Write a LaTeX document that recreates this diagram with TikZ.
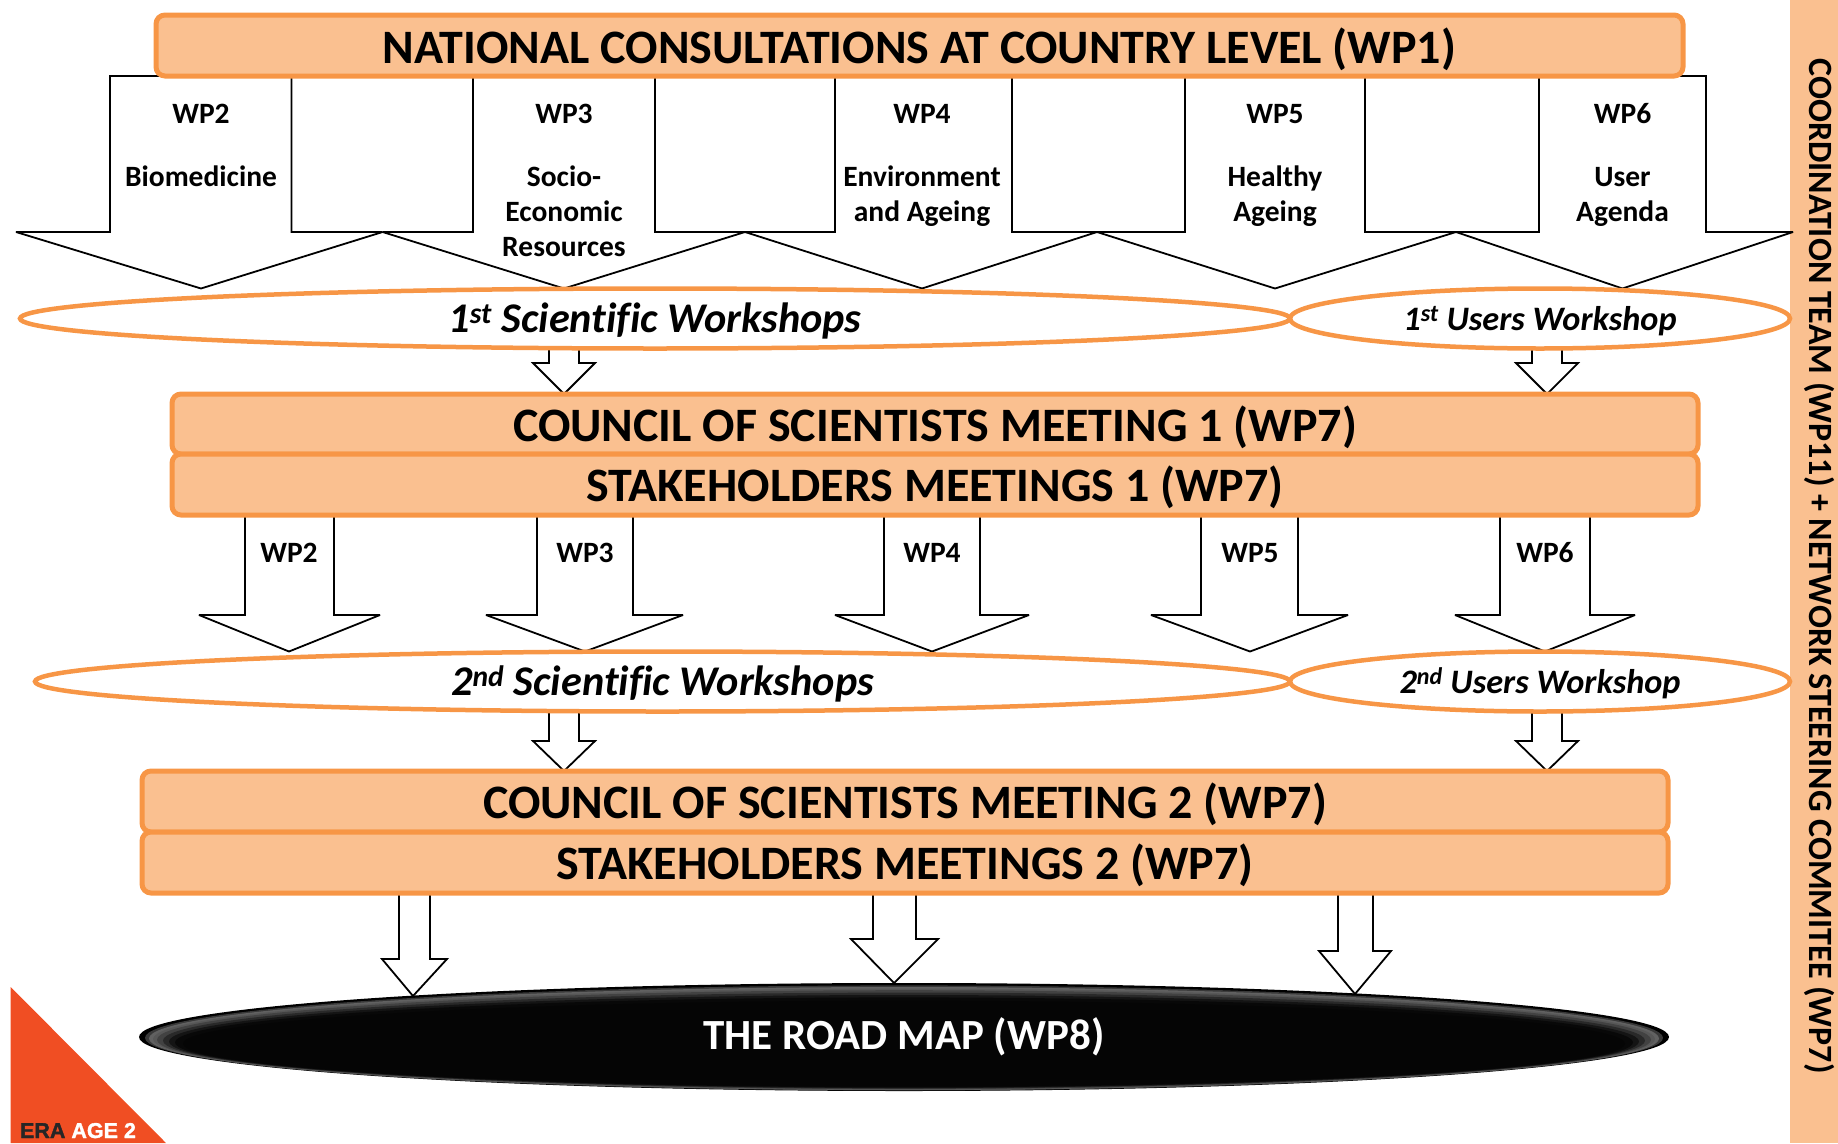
\documentclass[tikz,border=0pt]{standalone}
\usepackage{fontspec}
\setmainfont[Ligatures=NoCommon]{Carlito}
\newfontfamily\logofont[FakeBold=1.5]{Liberation Sans Bold}
\usetikzlibrary{shapes.geometric,backgrounds,calc}

\definecolor{wporange}{HTML}{F79646}
\definecolor{wpfill}{HTML}{FAC090}
\definecolor{logoorange}{HTML}{F04E23}

\tikzset{
    meetingbox/.style={rectangle, rounded corners=9pt, draw=wporange, fill=wpfill,
        line width=5pt, inner sep=0pt, outer sep=0pt, minimum height=61pt, text depth=1pt,
        font=\fontsize{48}{52}\selectfont\bfseries},
    workshop/.style={ellipse, draw=wporange, fill=white, line width=4.5pt, text depth=1pt,
        inner sep=0pt, outer sep=0pt, minimum height=60pt},
    blockarrow/.style={draw=black, fill=white, line width=1.8pt, line join=miter, miter limit=3},
    wplabel/.style={inner sep=0pt, align=center,
        font=\fontsize{29.5}{35}\selectfont\bfseries},
}

\begin{document}
\begin{tikzpicture}[x=1pt, y=-1pt]
    \useasboundingbox (0,0) rectangle (1838,1143);

    % Top box
    \node[meetingbox, minimum width=1527pt, text depth=0pt] (title) at (919.5,45.5) {NATIONAL CONSULTATIONS AT COUNTRY LEVEL (WP1)};

    % First workshops
    \node[workshop, minimum width=1270pt, font=\fontsize{42.3}{46}\selectfont\bfseries\itshape] (scione) at (655,318.5) {1\textsuperscript{st} Scientific Workshops};
    \node[workshop, minimum width=500pt, font=\fontsize{34.3}{38}\selectfont\bfseries\itshape] (usersone) at (1540,318.5) {1\textsuperscript{st} Users Workshop};

    % First meetings
    \node[meetingbox, minimum width=1526pt, minimum height=60pt] (councilone) at (935,424) {COUNCIL OF SCIENTISTS MEETING 1 (WP7)};
    \node[meetingbox, minimum width=1526pt] (stakeone) at (935,484.5) {STAKEHOLDERS MEETINGS 1 (WP7)};

    % Second workshops
    \node[workshop, minimum width=1255pt, font=\fontsize{42.3}{46}\selectfont\bfseries\itshape] (scitwo) at (662.5,681.5) {2\textsuperscript{nd} Scientific Workshops};
    \node[workshop, minimum width=500pt, font=\fontsize{34.3}{38}\selectfont\bfseries\itshape] (userstwo) at (1540,681.5) {2\textsuperscript{nd} Users Workshop};

    % Second meetings
    \node[meetingbox, minimum width=1526pt] (counciltwo) at (905,801.5) {COUNCIL OF SCIENTISTS MEETING 2 (WP7)};
    \node[meetingbox, minimum width=1526pt] (staketwo) at (905,862.5) {STAKEHOLDERS MEETINGS 2 (WP7)};

    % The road map, its fill goes on the background layer
    \node[ellipse, inner sep=0pt, outer sep=0pt, minimum width=1530pt, minimum height=108pt,
        text=white, font=\fontsize{43}{47}\selectfont\bfseries] (road) at (904,1037) {THE ROAD MAP (WP8)};

    % Side bar text
    \node[rotate=-90, inner sep=0pt, font=\fontsize{34}{38}\selectfont\bfseries] (team) at (1820,566) {COORDINATION TEAM (WP11) + NETWORK STEERING COMMITEE (WP7)};

    % Logo
    \node[inner sep=0pt, anchor=base, text=white, font=\logofont\fontsize{21.5}{24}\selectfont] (logo) at (78,1138) {\textcolor{black!85}{ERA} AGE 2};

    % Labels on the first arrows
    \foreach \wp/\x/\topic in {WP2/201/Biomedicine, WP3/564/{Socio-\\Economic\\Resources}, WP4/922/{Environment\\and Ageing}, WP5/1275/{Healthy\\Ageing}, WP6/1622.5/{User\\Agenda}} {
        \node[wplabel] (top\wp) at (\x,114) {\wp};
        \node[wplabel, anchor=north] (topic\wp) at (\x,162) {\strut\topic};
    }

    % Labels on the second arrows
    \foreach \wp/\x in {WP2/289, WP3/585, WP4/932, WP5/1250, WP6/1545} {
        \node[wplabel] (mid\wp) at (\x,553) {\wp};
    }

    \begin{scope}[on background layer]
        \fill[wpfill] (1789.5,0) rectangle (1838,1143);
        \fill[logoorange] (10.7,987) -- (10.7,1143) -- (166,1143) -- cycle;

        % Arrows: source, target, shaft left, shaft right, head left, tip, head right, head y, tip offset
        \foreach \src/\dst/\shl/\shr/\hdl/\tipx/\hdr/\hdy/\dy in {
            title/scione/110/291.5/16/201/382.6/232/0,
            title/scione/473/655/382.6/564/745/232/0,
            title/scione/835/1012/745/922/1097/232/0,
            title/scione/1185/1365/1097/1275/1456/232/0,
            title/usersone/1539/1706/1456/1622.5/1793/232/0,
            scione/councilone/549/579/533/564/595/363/0,
            usersone/councilone/1532/1562/1516/1547/1578/363/0,
            stakeone/scitwo/245/334/199/289/380/615/0,
            stakeone/scitwo/537/633/486/585/683/615/0,
            stakeone/scitwo/884/980/835/932/1029/615/0,
            stakeone/scitwo/1201/1298/1151/1250/1348/615/0,
            stakeone/userstwo/1500/1590/1455/1545/1635/615/0,
            scitwo/counciltwo/549/579/533/564/595/741/0,
            userstwo/counciltwo/1532/1562/1516/1547/1578/741/0,
            staketwo/road/399/430/382/413/447/959/13,
            staketwo/road/873/916/851/894/938/939/0,
            staketwo/road/1338/1373/1319/1355/1391/951/11} {
            \draw[blockarrow] (\shl,0 |- \src.south) -- (\shl,\hdy) -- (\hdl,\hdy)
                -- ($(\tipx,0 |- \dst.north)+(0,\dy)$)
                -- (\hdr,\hdy) -- (\shr,\hdy) -- (\shr,0 |- \src.south) -- cycle;
        }

        % Road map fill with a lighter rim
        \foreach \d/\shade in {0/100, 1.5/78, 2.5/62, 3.5/66, 4.5/74, 6/84, 7.5/92, 9/97, 11/98} {
            \fill[black!\shade] ($(road.center)+(0,0.6*\d)$) ellipse ({765-4*\d} and {54-\d});
        }
    \end{scope}
\end{tikzpicture}
\end{document}
